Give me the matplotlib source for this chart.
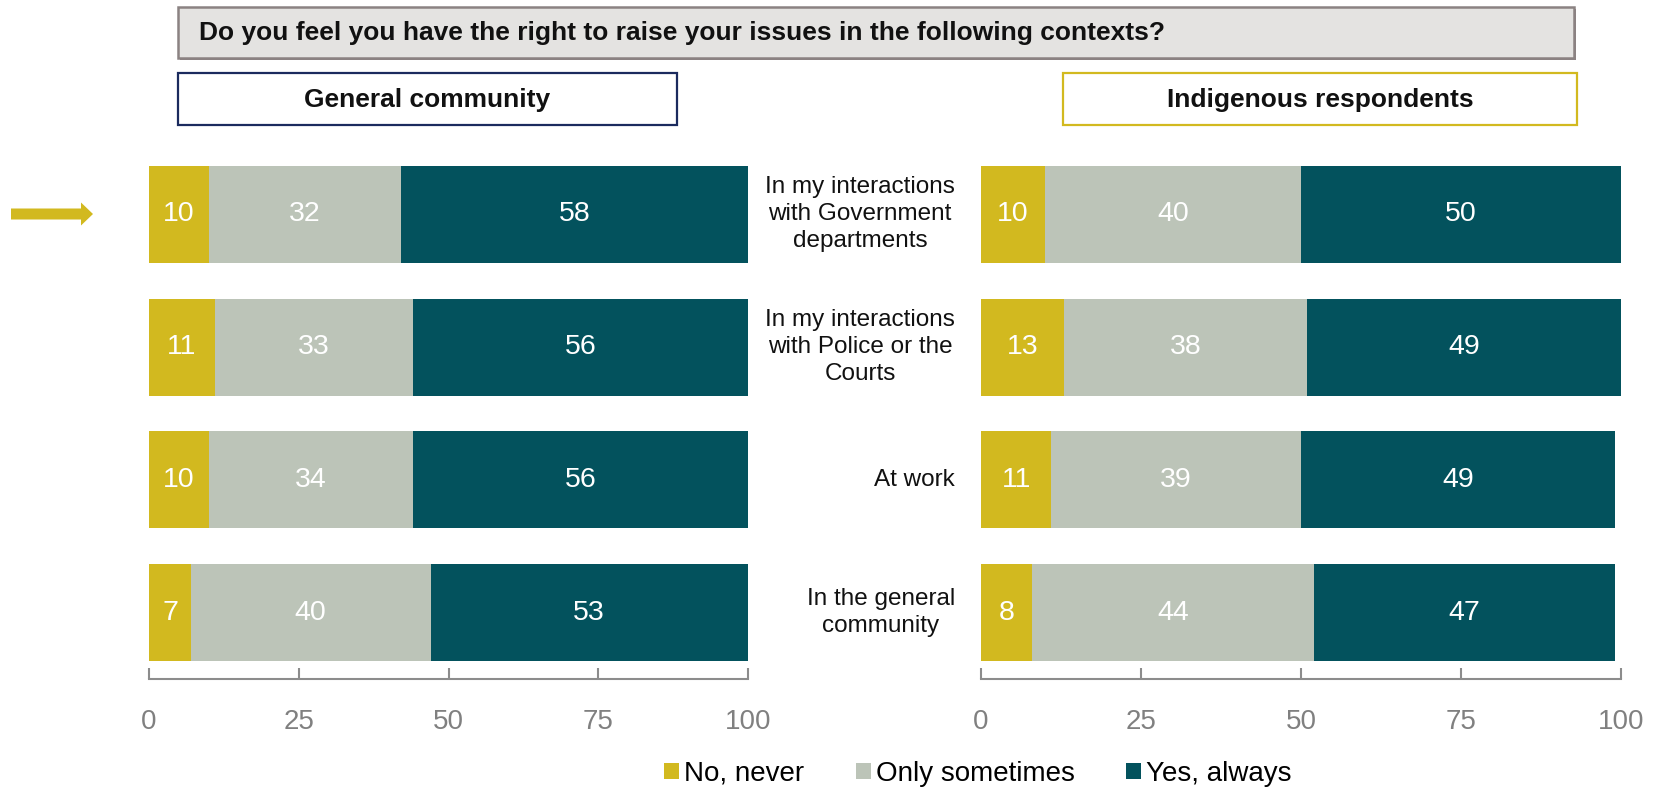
import matplotlib
matplotlib.use("Agg")
import matplotlib.pyplot as plt
import matplotlib.transforms as mtransforms
from matplotlib.patches import Rectangle, FancyArrow, Patch
import numpy as np

plt.rcParams["font.family"] = ["Liberation Sans", "DejaVu Sans"]

# ---- data ----
categories = [
    "In my interactions\nwith Government\ndepartments",
    "In my interactions\nwith Police or the\nCourts",
    "At work",
    "In the general\ncommunity",
]
series_names = ["No, never", "Only sometimes", "Yes, always"]
general_never = [10, 11, 10, 7]
general_sometimes = [32, 33, 34, 40]
general_always = [58, 56, 56, 53]
indigenous_never = [10, 13, 11, 8]
indigenous_sometimes = [40, 38, 39, 44]
indigenous_always = [50, 49, 49, 47]
x_ticks = [0, 25, 50, 75, 100]

title = "Do you feel you have the right to raise your issues in the following contexts?"
panel_titles = ["General community", "Indigenous respondents"]

# ---- style ----
GOLD = "#D2B91F"
SAGE = "#BCC4B8"
TEAL = "#03525D"
NAVY = "#1B2B5E"
GREY_TXT = "#808080"
colors = [GOLD, SAGE, TEAL]

W, H, DPI = 1659, 788, 100
fig = plt.figure(figsize=(W / DPI, H / DPI), dpi=DPI)


def px_rect(x0, y0, x1, y1):
    """Figure-fraction rect from pixel box measured from the top-left."""
    return [x0 / W, 1 - y1 / H, (x1 - x0) / W, (y1 - y0) / H]


ax_top, ax_bot = 148, 679
ax_left = fig.add_axes(px_rect(149, ax_top, 748, ax_bot))
ax_right = fig.add_axes(px_rect(981, ax_top, 1621, ax_bot))

ypos = np.arange(len(categories))
bar_h = 0.73


def draw_panel(ax, never, sometimes, always):
    left = np.zeros(len(ypos))
    for vals, col in zip([never, sometimes, always], colors):
        vals = np.asarray(vals, dtype=float)
        bars = ax.barh(ypos, vals, left=left, height=bar_h, color=col,
                       edgecolor="none")
        for b, v in zip(bars, vals):
            ax.text(b.get_x() + b.get_width() / 2, b.get_y() + b.get_height() / 2,
                    f"{v:.0f}", ha="center", va="center", color="white",
                    fontsize=20.5)
        left = left + vals
    ax.set_xlim(0, 100)
    ax.set_ylim(len(ypos) - 0.5, -0.5)
    ax.set_yticks([])
    for s in ["top", "right", "left"]:
        ax.spines[s].set_visible(False)
    ax.spines["bottom"].set_color("#8C8C8C")
    ax.spines["bottom"].set_linewidth(1.5)
    ax.set_xticks(x_ticks)
    ax.tick_params(axis="x", direction="in", length=8, width=1.5,
                   color="#8C8C8C", labelcolor=GREY_TXT, labelsize=20, pad=21.5)
    ax.patch.set_visible(False)


draw_panel(ax_left, general_never, general_sometimes, general_always)
draw_panel(ax_right, indigenous_never, indigenous_sometimes, indigenous_always)

# category labels between the two panels
trans = mtransforms.blended_transform_factory(fig.transFigure, ax_right.transData)
for y, cat in zip(ypos, categories):
    fig.text(955 / W, y, cat, transform=trans, ha="right", va="center",
             multialignment="center", fontsize=17.5, linespacing=1.3,
             color="#111111")

# header boxes (pixel coordinates via inches)
inch = fig.dpi_scale_trans


def box(x0, y0, x1, y1, fc, ec, lw):
    r = Rectangle((x0 / DPI, (H - y1) / DPI), (x1 - x0) / DPI, (y1 - y0) / DPI,
                  transform=inch, facecolor=fc, edgecolor=ec, linewidth=lw)
    fig.add_artist(r)


# title box with a soft drop shadow
box(180, 9, 1576, 60, "#8B8282", "none", 0)
box(178, 7, 1574, 58, "#E4E3E1", "#8B8282", 1.8)
fig.text(199 / W, 1 - 33 / H, title, ha="left", va="center",
         fontsize=19, fontweight="bold", color="#111111")

box(178, 73, 677, 125, "white", NAVY, 1.6)
fig.text(427.5 / W, 1 - 100 / H, panel_titles[0], ha="center", va="center",
         fontsize=19, fontweight="bold", color="#111111")

box(1063, 73, 1577, 125, "white", GOLD, 1.6)
fig.text(1320 / W, 1 - 100 / H, panel_titles[1], ha="center", va="center",
         fontsize=19, fontweight="bold", color="#111111")

# highlight arrow next to the first row
arrow = FancyArrow(11 / DPI, (H - 214) / DPI, 82 / DPI, 0, width=11 / DPI,
                   head_width=23 / DPI, head_length=12 / DPI,
                   length_includes_head=True, transform=inch,
                   facecolor=GOLD, edgecolor="none")
fig.add_artist(arrow)

# legend
handles = [Patch(facecolor=c, edgecolor="none") for c in colors]
fig.legend(handles, series_names, loc="center left",
           bbox_to_anchor=(664 / W, 1 - 774 / H), ncol=3, frameon=False,
           fontsize=20, handlelength=0.54, handleheight=0.54,
           handletextpad=0.18, columnspacing=1.85, borderpad=0,
           borderaxespad=0)

fig.savefig("out.png", dpi=DPI, facecolor="white")
